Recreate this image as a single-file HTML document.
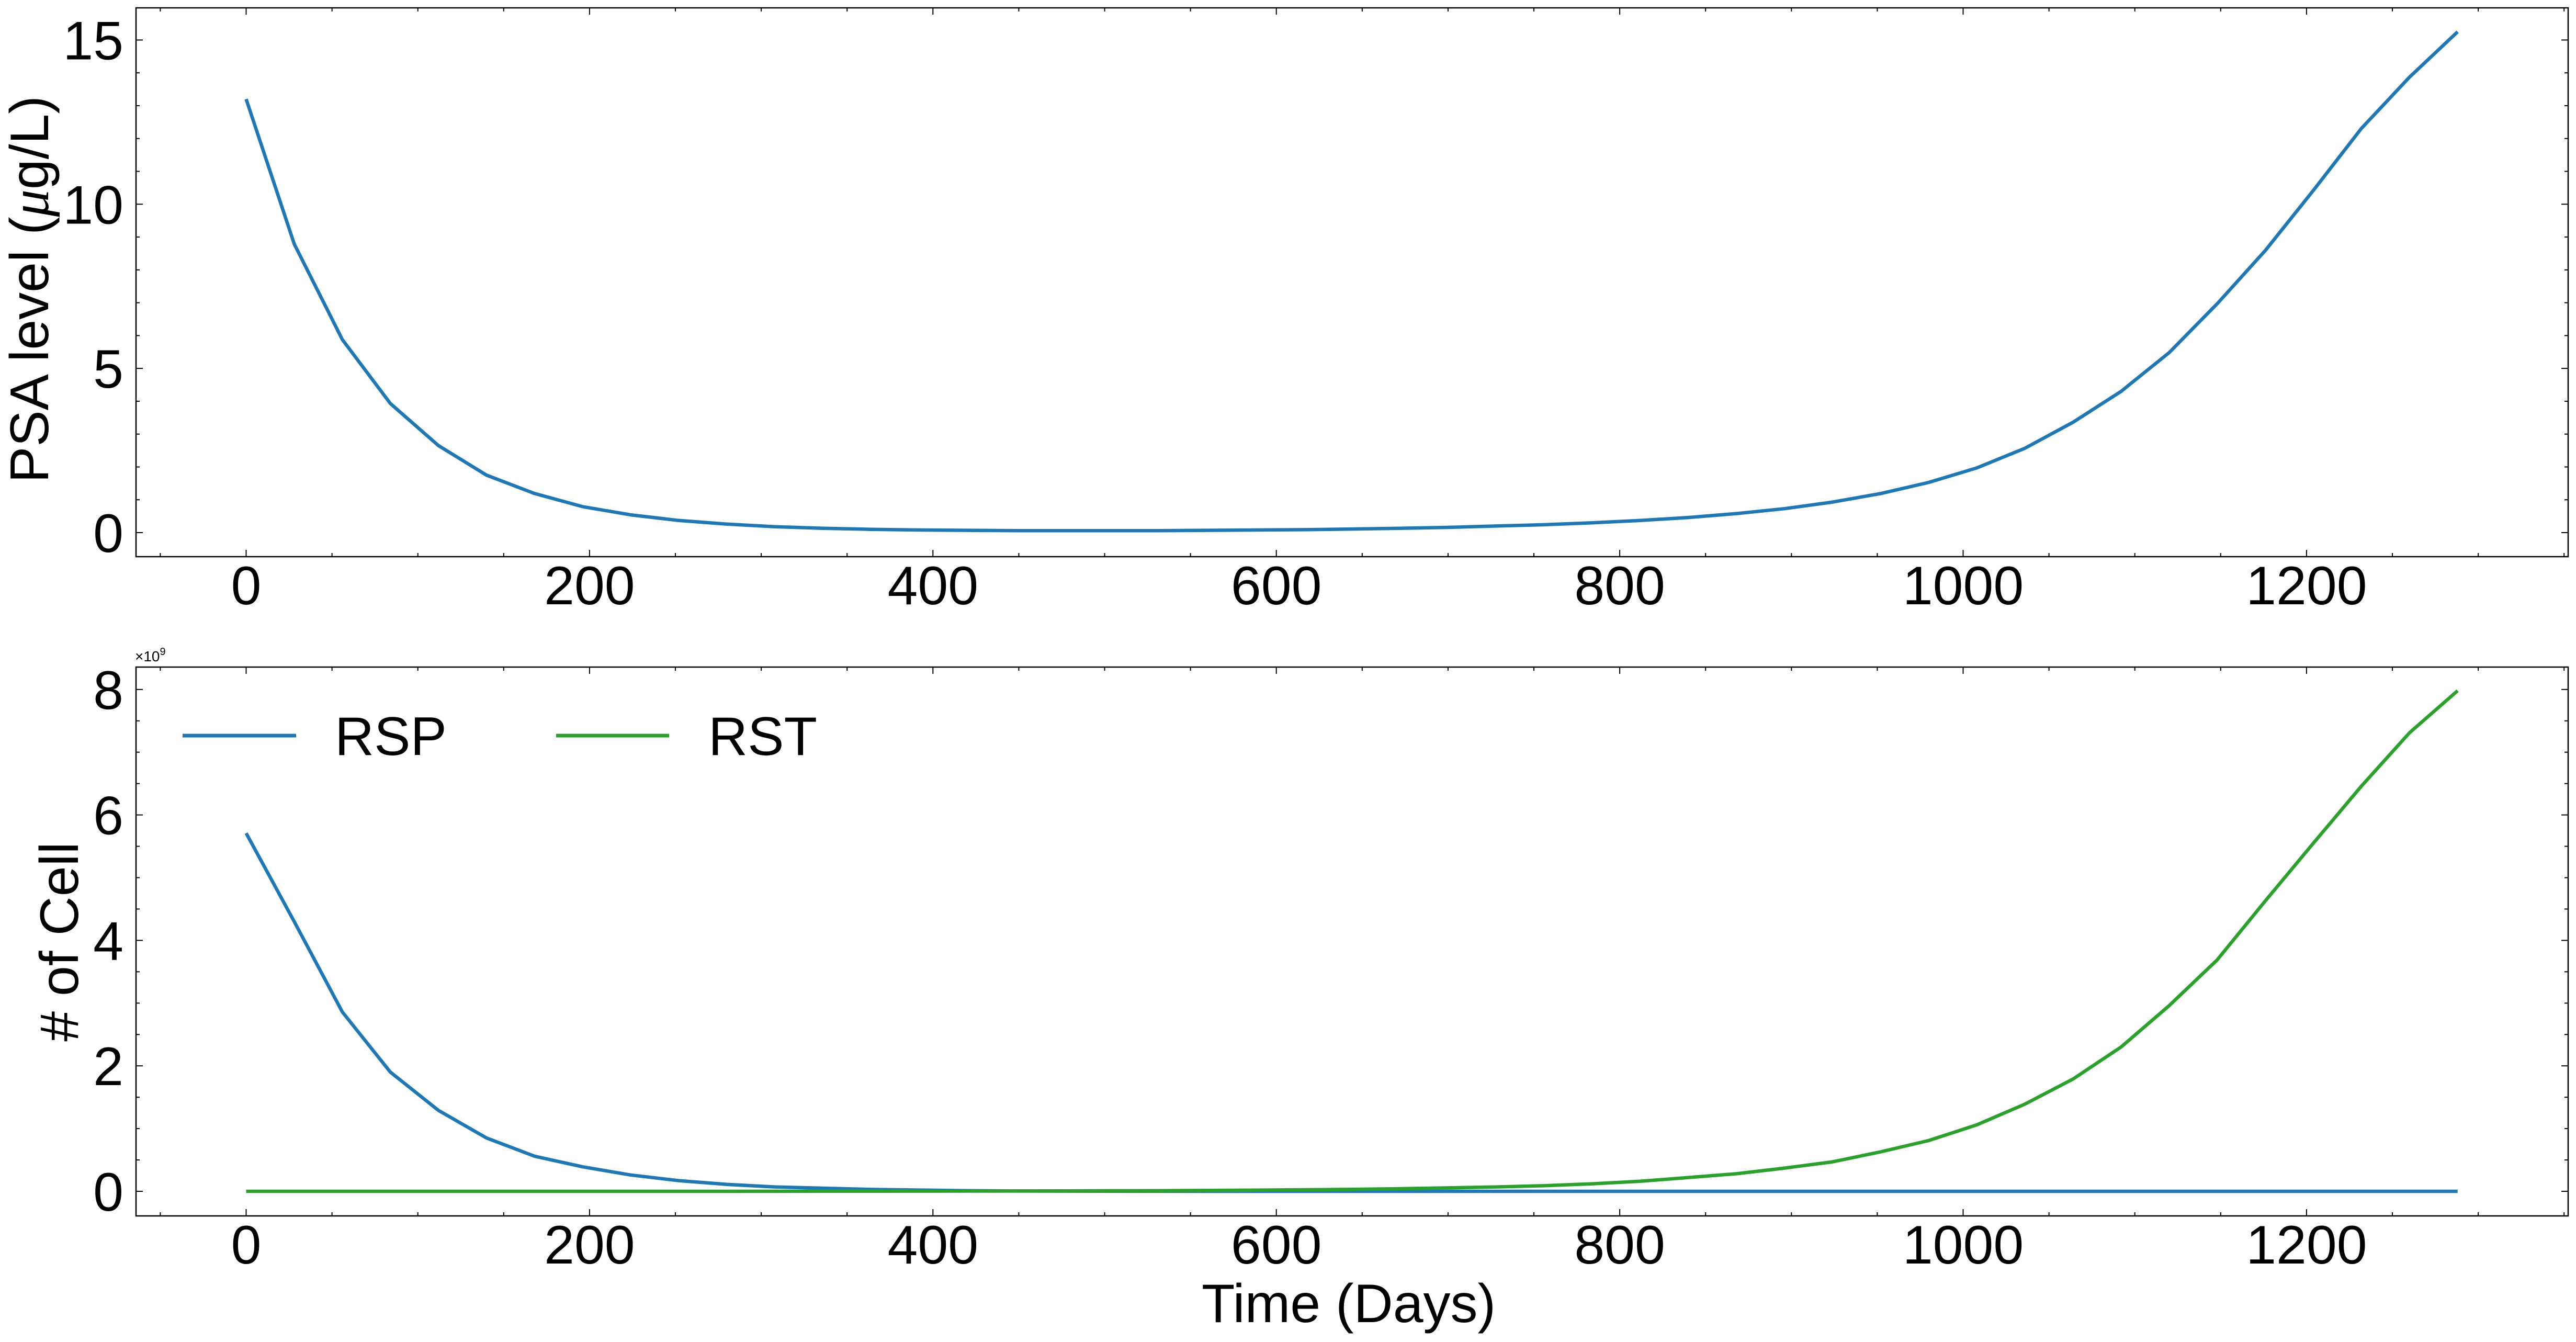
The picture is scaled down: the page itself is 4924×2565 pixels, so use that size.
<!DOCTYPE html>
<html><head><meta charset="utf-8"><style>
html,body{margin:0;padding:0;background:#fff;}
svg{display:block;font-family:"Liberation Sans",Arial,sans-serif;}
</style></head><body>
<svg id="chart" width="4924" height="2565" viewBox="0 0 4924 2565" xmlns="http://www.w3.org/2000/svg">
<rect width="4924" height="2565" fill="#fff"/>
<g id="gtop"></g>
<g id="gbot"></g>
<text transform="translate(92,553) rotate(-90)" text-anchor="middle" font-size="104">PSA level (<tspan font-style="italic" font-family="Liberation Serif">μ</tspan>g/L)</text>
<text transform="translate(149,1800) rotate(-90)" text-anchor="middle" font-size="104"># of Cell</text>
<text x="2578" y="2527" text-anchor="middle" font-size="104">Time (Days)</text>
<text x="258" y="1264" font-size="28">×10<tspan dy="-12" font-size="20">9</tspan></text>
<g>
<line x1="349" y1="1406" x2="566" y2="1406" stroke="#1f77b4" stroke-width="7"/>
<text x="640" y="1443" font-size="104">RSP</text>
<line x1="1063" y1="1406" x2="1279" y2="1406" stroke="#2ca02c" stroke-width="7"/>
<text x="1354" y="1443" font-size="104">RST</text>
</g>
</svg>
<script>
const days = [0,28,56,84,112,140,168,196,224,252,280,308,336,364,392,420,448,476,504,532,560,588,616,644,672,700,728,756,784,812,840,868,896,924,952,980,1008,1036,1064,1092,1120,1148,1176,1204,1232,1260,1288];
const psa = [13.2,8.79,5.88,3.93,2.65,1.75,1.19,0.79,0.54,0.37,0.26,0.18,0.13,0.10,0.08,0.07,0.06,0.06,0.06,0.06,0.07,0.08,0.09,0.11,0.13,0.16,0.20,0.24,0.30,0.37,0.46,0.58,0.73,0.93,1.19,1.53,1.97,2.57,3.36,4.30,5.48,6.97,8.59,10.42,12.31,13.87,15.25];
const rsp = [5.71,4.30,2.86,1.90,1.29,0.85,0.56,0.39,0.26,0.17,0.11,0.07,0.05,0.03,0.02,0.01,0.005,0.003,0.002,0.001,0,0,0,0,0,0,0,0,0,0,0,0,0,0,0,0,0,0,0,0,0,0,0,0,0,0,0];
const rst = [0,0,0,0,0,0,0,0,0,0,0,0.001,0.002,0.002,0.003,0.004,0.005,0.007,0.009,0.011,0.015,0.019,0.025,0.032,0.042,0.055,0.07,0.09,0.12,0.16,0.22,0.28,0.37,0.47,0.63,0.81,1.06,1.39,1.79,2.30,2.96,3.69,4.63,5.55,6.46,7.31,7.98];
const xTicks = [0,200,400,600,800,1000,1200];
const psaTicks = [0,5,10,15];
const cellTicks = [0,2,4,6,8];

const NS = "http://www.w3.org/2000/svg";
const AXL = 260, AXR = 4909, X0 = 470.5, XS = 3.282;
const xAt = d => X0 + d * XS;
function mk(parent, tag, attrs){ const e=document.createElementNS(NS,tag); for(const k in attrs) e.setAttribute(k,attrs[k]); parent.appendChild(e); return e; }

function panel(g, pTop, pBottom, y0, ys, yTicks, minorStep, yMin, yMax, xLabelY, prefix){
  const yAt = v => y0 - v * ys;
  const frame = mk(g,'rect',{x:AXL,y:pTop,width:AXR-AXL,height:pBottom-pTop,fill:'none',stroke:'#000','stroke-width':2.5});
  
  
  for(let d=-50; d<=1350; d+=50){
    const x=xAt(d); if(x<AXL||x>AXR) continue;
    const major = d%200===0; const len = major?13:7;
    const t1 = mk(g,'line',{x1:x,y1:pBottom,x2:x,y2:pBottom-len,stroke:'#000','stroke-width':2});
    
    
    const t2 = mk(g,'line',{x1:x,y1:pTop,x2:x,y2:pTop+len,stroke:'#000','stroke-width':2});
    
    
  }
  xTicks.forEach(d=>{
    const t = mk(g,'text',{x:xAt(d),y:xLabelY,'text-anchor':'middle','font-size':104});
    t.textContent = d;
    
    
  });
  for(let v=Math.ceil(yMin/minorStep)*minorStep; v<=yMax+1e-9; v+=minorStep){
    const y=yAt(v); const major = yTicks.some(t=>Math.abs(t-v)<1e-6); const len = major?13:7;
    const t1 = mk(g,'line',{x1:AXL,y1:y,x2:AXL+len,y2:y,stroke:'#000','stroke-width':2});
    
    
    const t2 = mk(g,'line',{x1:AXR,y1:y,x2:AXR-len,y2:y,stroke:'#000','stroke-width':2});
    
    
  }
  yTicks.forEach(v=>{
    const t = mk(g,'text',{x:236,y:yAt(v)+37,'text-anchor':'end','font-size':104});
    t.textContent = v;
    
    
  });
  return yAt;
}
function series(g, vals, yAt, color, name){
  const pts = days.map((d,i)=>xAt(d).toFixed(1)+','+yAt(vals[i]).toFixed(1)).join(' ');
  const p = mk(g,'polyline',{points:pts,fill:'none',stroke:color,'stroke-width':6.5,'stroke-linejoin':'round'});
  
  
}
const gTop = document.getElementById('gtop');
const yTopScale = panel(gTop, 15, 1064, 1018, 62.77, psaTicks, 1, -0.73, 15.98, 1155, 'psa');
series(gTop, psa, yTopScale, '#1f77b4', 'psa-line');
const gBot = document.getElementById('gbot');
const yBotScale = panel(gBot, 1275, 2324, 2277, 119.9, cellTicks, 0.5, -0.39, 8.36, 2415, 'cell');
series(gBot, rsp, yBotScale, '#1f77b4', 'rsp-line');
series(gBot, rst, yBotScale, '#2ca02c', 'rst-line');
</script>
</body></html>
